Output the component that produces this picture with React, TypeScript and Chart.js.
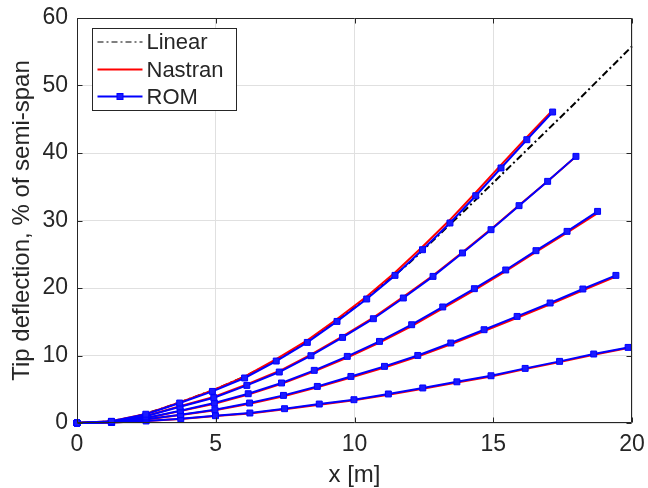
import React, { useEffect, useRef } from 'react';
import { Chart, registerables } from 'chart.js';

Chart.register(...registerables);

// ---- data ----
const xTicks = [0, 5, 10, 15, 20];
const yTicks = [0, 10, 20, 30, 40, 50, 60];

const linX = [0, 1, 2, 3, 4, 5, 6, 7, 8, 9, 10, 11, 12, 13, 14, 15, 16, 17, 18, 19, 20];
const linY = [0, 0.18, 0.8, 2.05, 3.5, 5.0, 6.8, 8.9, 11.35, 14.1, 17.1, 20.4, 23.8, 27.7, 31.6, 35.6, 39.6, 43.6, 47.6, 51.7, 55.8];

const romX1 = [0, 1.24, 2.48, 3.7, 4.88, 6.04, 7.18, 8.3, 9.37, 10.44, 11.46, 12.45, 13.44, 14.37, 15.28, 16.21, 17.14];
const romY1 = [0, 0.25, 1.3, 2.96, 4.68, 6.67, 9.18, 11.94, 15.05, 18.37, 21.87, 25.67, 29.63, 33.67, 37.78, 41.97, 46.07];
const romX2 = [0, 1.24, 2.48, 3.71, 4.93, 6.12, 7.29, 8.43, 9.57, 10.68, 11.76, 12.83, 13.89, 14.92, 15.93, 16.96, 17.98];
const romY2 = [0, 0.2, 1.0, 2.4, 3.75, 5.57, 7.55, 9.97, 12.68, 15.45, 18.52, 21.72, 25.19, 28.64, 32.2, 35.8, 39.5];
const romX3 = [0, 1.24, 2.48, 3.72, 4.95, 6.17, 7.37, 8.55, 9.74, 10.9, 12.06, 13.18, 14.32, 15.45, 16.54, 17.66, 18.76];
const romY3 = [0, 0.15, 0.75, 1.82, 2.95, 4.34, 5.93, 7.8, 9.87, 12.09, 14.56, 17.19, 19.9, 22.67, 25.53, 28.39, 31.35];
const romX4 = [0, 1.24, 2.49, 3.73, 4.97, 6.22, 7.44, 8.66, 9.87, 11.08, 12.28, 13.47, 14.67, 15.86, 17.05, 18.23, 19.42];
const romY4 = [0, 0.12, 0.55, 1.23, 1.97, 2.96, 4.09, 5.42, 6.9, 8.39, 10.01, 11.85, 13.82, 15.79, 17.78, 19.85, 21.87];
const romX5 = [0, 1.25, 2.49, 3.74, 4.99, 6.23, 7.48, 8.73, 9.98, 11.22, 12.46, 13.69, 14.92, 16.15, 17.39, 18.62, 19.86];
const romY5 = [0, 0.07, 0.3, 0.64, 1.08, 1.48, 2.12, 2.81, 3.45, 4.3, 5.19, 6.1, 7.0, 8.09, 9.13, 10.22, 11.2];

const nasY1 = [0, 0.27, 1.35, 3.05, 4.82, 6.88, 9.45, 12.25, 15.4, 18.75, 22.3, 26.1, 30.1, 34.15, 38.25, 42.35, 46.35];
const nasY2 = [0, 0.2, 1.05, 2.48, 3.85, 5.7, 7.7, 10.12, 12.85, 15.62, 18.68, 21.86, 25.3, 28.72, 32.25, 35.82, 39.48];
const nasY3 = [0, 0.14, 0.72, 1.76, 2.86, 4.22, 5.8, 7.65, 9.7, 11.9, 14.36, 16.98, 19.7, 22.48, 25.33, 28.2, 31.1];
const nasY4 = [0, 0.11, 0.52, 1.18, 1.9, 2.86, 3.97, 5.28, 6.74, 8.22, 9.84, 11.66, 13.62, 15.6, 17.58, 19.65, 21.68];
const nasY5 = [0, 0.06, 0.28, 0.6, 1.02, 1.41, 2.04, 2.72, 3.36, 4.2, 5.09, 5.99, 6.9, 7.98, 9.02, 10.1, 11.1];

const romXs = [romX1, romX2, romX3, romX4, romX5];
const romYs = [romY1, romY2, romY3, romY4, romY5];
const nasYs = [nasY1, nasY2, nasY3, nasY4, nasY5];

const legendLabels = ['Linear', 'Nastran', 'ROM'];

const FONT = "'Liberation Sans', Arial, Helvetica, sans-serif";
const TXT = '#262626';

const zip = (xs: number[], ys: number[]) => xs.map((x, i) => ({ x, y: ys[i] }));

const zeroPad = (s: any) => {
  s.paddingLeft = 0;
  s.paddingRight = 0;
  s.paddingTop = 0;
  s.paddingBottom = 0;
};

const framePlugin = {
  id: 'frameAndLegend',
  afterDraw(chart: any) {
    const { ctx, chartArea, scales } = chart;
    const { left, right, top, bottom } = chartArea;
    const L = Math.round(left) + 0.5;
    const R = Math.round(right) - 0.5;
    const T = Math.round(top) + 0.5;
    const B = Math.round(bottom) - 0.5;
    ctx.save();
    ctx.strokeStyle = TXT;
    ctx.lineWidth = 1;
    ctx.setLineDash([]);
    ctx.beginPath();
    ctx.rect(L, T, R - L, B - T);
    const tl = 5;
    xTicks.forEach((v) => {
      const px = Math.round(scales.x.getPixelForValue(v)) + 0.5;
      ctx.moveTo(px, B); ctx.lineTo(px, B - tl);
      ctx.moveTo(px, T); ctx.lineTo(px, T + tl);
    });
    yTicks.forEach((v) => {
      const py = Math.round(scales.y.getPixelForValue(v)) + 0.5;
      ctx.moveTo(L, py); ctx.lineTo(L + tl, py);
      ctx.moveTo(R, py); ctx.lineTo(R - tl, py);
    });
    ctx.stroke();

    // legend
    const bx = Math.round(left) + 15 + 0.5;
    const by = Math.round(top) + 10 + 0.5;
    const bw = 144;
    const bh = 82;
    ctx.fillStyle = '#ffffff';
    ctx.fillRect(bx, by, bw, bh);
    ctx.strokeStyle = TXT;
    ctx.lineWidth = 1;
    ctx.strokeRect(bx, by, bw, bh);
    const rows = [by + 13.5, by + 41, by + 68];
    const s0 = bx + 5;
    const s1 = bx + 50;
    // Linear sample
    ctx.beginPath();
    ctx.strokeStyle = '#555555';
    ctx.lineWidth = 1.5;
    ctx.setLineDash([6, 3, 2, 3]);
    ctx.moveTo(s0, rows[0]); ctx.lineTo(s1, rows[0]);
    ctx.stroke();
    ctx.setLineDash([]);
    // Nastran sample
    ctx.beginPath();
    ctx.strokeStyle = '#ff0000';
    ctx.lineWidth = 2;
    ctx.moveTo(s0, rows[1]); ctx.lineTo(s1, rows[1]);
    ctx.stroke();
    // ROM sample
    ctx.beginPath();
    ctx.strokeStyle = '#0000ff';
    ctx.lineWidth = 2;
    ctx.moveTo(s0, rows[2]); ctx.lineTo(s1, rows[2]);
    ctx.stroke();
    const mx = (s0 + s1) / 2;
    ctx.fillStyle = '#1a1aff';
    ctx.lineWidth = 1;
    ctx.fillRect(mx - 3, rows[2] - 3, 6, 6);
    ctx.strokeRect(mx - 3, rows[2] - 3, 6, 6);

    ctx.fillStyle = TXT;
    ctx.font = `22px ${FONT}`;
    ctx.textAlign = 'left';
    ctx.textBaseline = 'middle';
    legendLabels.forEach((t, i) => ctx.fillText(t, bx + 54, rows[i] + 1));
    ctx.restore();
  },
};

export default function App() {
  const ref = useRef<HTMLCanvasElement>(null);
  useEffect(() => {
    const canvas = ref.current;
    if (!canvas) return;
    const datasets: any[] = [];
    datasets.push({
      label: 'Linear',
      data: zip(linX, linY),
      showLine: true,
      borderColor: '#000000',
      borderWidth: 2,
      borderDash: [7, 3, 2, 3],
      pointRadius: 0,
      order: 2,
      clip: false,
    });
    nasYs.forEach((ys, i) => {
      datasets.push({
        label: 'Nastran',
        data: zip(romXs[i], ys),
        showLine: true,
        borderColor: '#ff0000',
        borderWidth: 2,
        pointRadius: 0,
        order: 1,
        clip: false,
      });
    });
    romYs.forEach((ys, i) => {
      datasets.push({
        label: 'ROM',
        data: zip(romXs[i], ys),
        showLine: true,
        borderColor: '#0000ff',
        borderWidth: 2,
        pointStyle: 'rect',
        pointRadius: 4.2,
        pointBorderWidth: 1,
        pointBorderColor: '#0000ff',
        pointBackgroundColor: '#1a1aff',
        order: 0,
        clip: false,
      });
    });

    const chart = new Chart(canvas, {
      type: 'scatter',
      data: { datasets },
      plugins: [framePlugin],
      options: {
        animation: false,
        responsive: false,
        maintainAspectRatio: false,
        devicePixelRatio: 1,
        layout: { padding: { left: 0, top: 18, right: 16, bottom: 0 } },
        plugins: { legend: { display: false }, tooltip: { enabled: false } },
        elements: { line: { tension: 0 } },
        scales: {
          x: {
            type: 'linear',
            min: 0,
            max: 20,
            afterBuildTicks: (s: any) => { s.ticks = xTicks.map((v) => ({ value: v })); },
            afterFit: (s: any) => { s.height = 65; zeroPad(s); },
            ticks: { color: TXT, font: { family: FONT, size: 23 }, padding: 8, maxRotation: 0 },
            grid: { color: '#e0e0e0', lineWidth: 1, drawTicks: false },
            border: { display: false },
            title: { display: true, text: 'x [m]', color: TXT, font: { family: FONT, size: 24 }, padding: { top: 0, bottom: -2 } },
          },
          y: {
            type: 'linear',
            min: 0,
            max: 60,
            afterBuildTicks: (s: any) => { s.ticks = yTicks.map((v) => ({ value: v })); },
            afterFit: (s: any) => { s.width = 77; zeroPad(s); },
            ticks: { color: TXT, font: { family: FONT, size: 23 }, padding: 9 },
            grid: { color: '#e0e0e0', lineWidth: 1, drawTicks: false },
            border: { display: false },
            title: { display: true, text: 'Tip deflection, % of semi-span', color: TXT, font: { family: FONT, size: 24 }, padding: { top: 8, bottom: 0 } },
          },
        },
      } as any,
    });
    return () => chart.destroy();
  }, []);
  return (
    <div style={{ position: 'fixed', left: 0, top: 0, width: 648, height: 488, background: '#ffffff' }}>
      <canvas ref={ref} width={648} height={488} style={{ width: 648, height: 488, display: 'block' }} />
    </div>
  );
}
